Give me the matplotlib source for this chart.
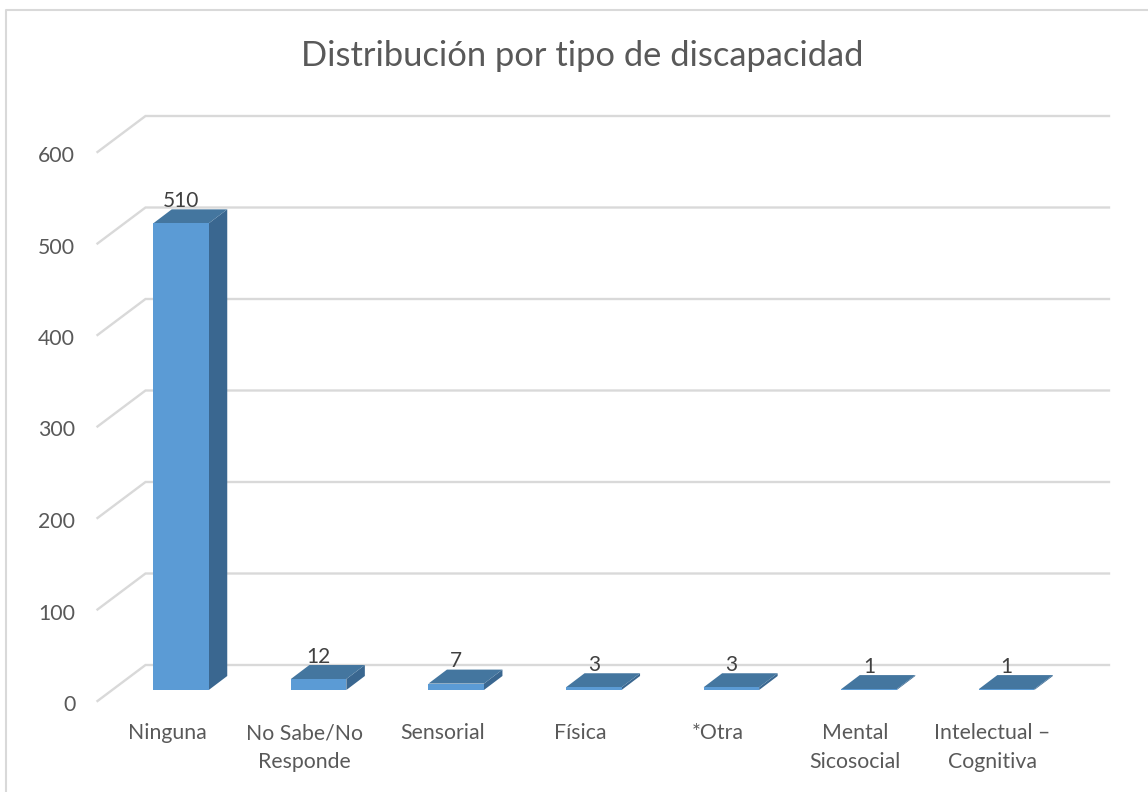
import matplotlib
matplotlib.use("Agg")
import matplotlib.pyplot as plt
import numpy as np
from matplotlib.lines import Line2D
from matplotlib.patches import Polygon
from matplotlib.transforms import ScaledTranslation

plt.rcParams['font.family'] = ['Lato', 'DejaVu Sans']

# dane
categories = ['Ninguna', 'No Sabe/No\nResponde', 'Sensorial', 'Física', '*Otra',
              'Mental\nSicosocial', 'Intelectual –\nCognitiva']
values = [510, 12, 7, 3, 3, 1, 1]
y_ticks = [0, 100, 200, 300, 400, 500, 600]
title = 'Distribución por tipo de discapacidad'

W, H = 1148, 792
fig = plt.figure(figsize=(W / 100, H / 100), dpi=100)
fig.patch.set_facecolor('white')

# ramka wykresu: widać tylko lewą i górną krawędź
fig.add_artist(Line2D([6 / W, 6 / W, 1], [0, 1 - 10 / H, 1 - 10 / H], transform=fig.transFigure,
                      color='#D9D9D9', linewidth=1.5))

# oś: płaszczyzna przednia, piksele 97.5-1109 w poziomie, 701-115.7 w pionie
ax = fig.add_axes([97.5 / W, (H - 701) / H, (1109 - 97.5) / W, (701 - 115.7) / H])
ax.patch.set_alpha(0)
px_x = 137.6            # piksele na kategorię
px_y = 0.915            # piksele na jednostkę
ax.set_xlim((97.5 - 167) / px_x, (1109 - 167) / px_x)
ax.set_ylim(0, (701 - 115.7) / px_y)
for s in ax.spines.values():
    s.set_visible(False)

# głębokość "3D" w pikselach przeliczona na jednostki danych
wall_dx, wall_dy = 48 / px_x, 36 / px_y
shift_dx, shift_dy = 14 / px_x, 11 / px_y
bar_dx, bar_dy = 18.5 / px_x, 14 / px_y
bar_w = 55.5 / px_x
x = np.arange(len(categories))

# linie siatki: ukos przy lewej ścianie i poziom na tylnej
x0 = ax.get_xlim()[0]
x1 = ax.get_xlim()[1]
for t in y_ticks:
    ax.plot([x0, x0 + wall_dx, x1], [t, t + wall_dy, t + wall_dy], color='#D9D9D9',
            linewidth=1.7, zorder=1, clip_on=False, solid_joinstyle='miter')

# słupki: przód, bok, góra
for xi, v in zip(x, values):
    left = xi + shift_dx - bar_w / 2
    right = xi + shift_dx + bar_w / 2
    base = shift_dy
    top = base + v
    ax.add_patch(Polygon([(right, base), (right + bar_dx, base + bar_dy),
                          (right + bar_dx, top + bar_dy), (right, top)],
                         facecolor='#3A6790', edgecolor='none', zorder=3, clip_on=False))
    ax.add_patch(Polygon([(left, top), (left + bar_dx, top + bar_dy),
                          (right + bar_dx, top + bar_dy), (right, top)],
                         facecolor='#44769F', edgecolor='none', zorder=3, clip_on=False))
    ax.text(xi + shift_dx, top + bar_dy - 2, str(v), ha='center', va='bottom',
            fontsize=15, color='#404040', zorder=4)
ax.bar(x + shift_dx, values, width=bar_w, bottom=shift_dy, color='#5B9BD5', zorder=3)

ax.set_xticks(x)
ax.set_xticklabels(categories, fontsize=15.3, color='#595959', linespacing=1.55)
ax.set_yticks(y_ticks)
ax.set_yticklabels([str(t) for t in y_ticks], fontsize=15.3, color='#595959')
ax.tick_params(axis='x', length=0, pad=16)
ax.tick_params(axis='y', length=0, pad=16)

# etykiety osi y są 2 piksele niżej niż końce linii
down = ScaledTranslation(0, -2 / 100, fig.dpi_scale_trans)
for lab in ax.get_yticklabels():
    lab.set_transform(lab.get_transform() + down)

fig.text(582 / W, 1 - 56 / H, title, ha='center', va='center', fontsize=24.8, color='#595959')

fig.savefig('out.png', dpi=100)
